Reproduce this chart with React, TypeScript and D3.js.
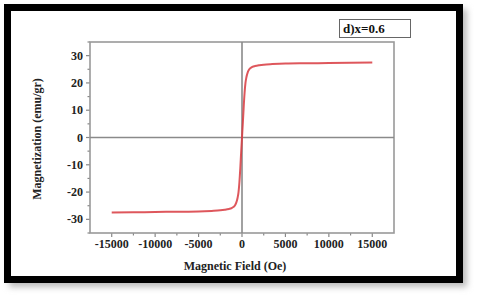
import React, { useEffect, useRef } from "react";
import * as d3 from "d3";

// magnetic field (Oe) and magnetization (emu/gr), read from the loop
const fieldValues = [
  -15000, -12500, -10000, -7500, -5000, -3500, -2500, -2000, -1500, -1200,
  -1000, -800, -650, -500, -400, -300, -200, -100, 0, 100, 200, 300, 400,
  500, 650, 800, 1000, 1200, 1500, 2000, 2500, 3500, 5000, 7500, 10000,
  12500, 15000,
];
const magnetizationValues = [
  -27.5, -27.4, -27.3, -27.2, -27.1, -26.9, -26.7, -26.5, -26.2, -25.9,
  -25.5, -24.8, -23.8, -22, -20, -16.5, -11.5, -5.5, 0, 5.5, 11.5, 16.5,
  20, 22, 23.8, 24.8, 25.5, 25.9, 26.2, 26.5, 26.7, 26.9, 27.1, 27.2, 27.3,
  27.4, 27.5,
];
const xTicks = [-15000, -10000, -5000, 0, 5000, 10000, 15000];
const yTicks = [-30, -20, -10, 0, 10, 20, 30];
const legendLabel = "d)x=0.6";

const W = 480;
const H = 300;
const margin = { left: 90, right: 86, top: 42, bottom: 67 };
const font = "Liberation Serif, Times New Roman, DejaVu Serif, serif";

const App: React.FC = () => {
  const ref = useRef<SVGSVGElement | null>(null);

  useEffect(() => {
    const svg = d3.select(ref.current);
    svg.selectAll("*").remove();

    const defs = svg.append("defs");
    defs
      .append("filter")
      .attr("id", "shadow")
      .attr("x", "-10%")
      .attr("y", "-10%")
      .attr("width", "120%")
      .attr("height", "120%")
      .append("feGaussianBlur")
      .attr("stdDeviation", 3);

    svg.append("rect").attr("width", W).attr("height", H).attr("fill", "#fff");

    // frame with drop shadow
    svg
      .append("rect")
      .attr("x", 9)
      .attr("y", 9)
      .attr("width", 458)
      .attr("height", 278)
      .attr("fill", "#bbb")
      .attr("filter", "url(#shadow)");
    svg
      .append("rect")
      .attr("x", 7.5)
      .attr("y", 7.5)
      .attr("width", 452)
      .attr("height", 272)
      .attr("fill", "#fff")
      .attr("stroke", "#000")
      .attr("stroke-width", 7);

    const x = d3
      .scaleLinear()
      .domain([-17500, 17500])
      .range([margin.left, W - margin.right]);
    const y = d3
      .scaleLinear()
      .domain([-35, 35])
      .range([H - margin.bottom, margin.top]);

    const g = svg.append("g").style("font-family", font);
    const gray = "#999";

    // minor ticks
    const xMinor = d3.range(-15000, 15001, 2500);
    const yMinor = d3.range(-35, 36, 5);
    g.selectAll(".xm")
      .data(xMinor)
      .enter()
      .append("line")
      .attr("x1", (d) => x(d))
      .attr("x2", (d) => x(d))
      .attr("y1", y(-35))
      .attr("y2", (d) => y(-35) + (d % 5000 === 0 ? 4 : 2.5))
      .attr("stroke", "#888")
      .attr("stroke-width", 1.2);
    g.selectAll(".ym")
      .data(yMinor)
      .enter()
      .append("line")
      .attr("y1", (d) => y(d))
      .attr("y2", (d) => y(d))
      .attr("x1", x(-17500))
      .attr("x2", (d) => x(-17500) - (d % 10 === 0 ? 4 : 2.5))
      .attr("stroke", "#888")
      .attr("stroke-width", 1.2);

    // plot border and zero lines
    g.append("rect")
      .attr("x", x(-17500))
      .attr("y", y(35))
      .attr("width", x(17500) - x(-17500))
      .attr("height", y(-35) - y(35))
      .attr("fill", "none")
      .attr("stroke", gray)
      .attr("stroke-width", 1.6);
    g.append("line")
      .attr("x1", x(0))
      .attr("x2", x(0))
      .attr("y1", y(35))
      .attr("y2", y(-35))
      .attr("stroke", "#8a8a8a")
      .attr("stroke-width", 1.6);
    g.append("line")
      .attr("x1", x(-17500))
      .attr("x2", x(17500))
      .attr("y1", y(0))
      .attr("y2", y(0))
      .attr("stroke", "#8a8a8a")
      .attr("stroke-width", 1.4);

    // tick labels
    g.selectAll(".xl")
      .data(xTicks)
      .enter()
      .append("text")
      .attr("x", (d) => x(d))
      .attr("y", y(-35) + 15)
      .attr("text-anchor", "middle")
      .style("font-family", font)
      .attr("font-weight", "bold")
      .attr("font-size", 12)
      .attr("fill", "#222")
      .text((d) => String(d));
    g.selectAll(".yl")
      .data(yTicks)
      .enter()
      .append("text")
      .attr("x", x(-17500) - 7)
      .attr("y", (d) => y(d) + 4)
      .attr("text-anchor", "end")
      .style("font-family", font)
      .attr("font-weight", "bold")
      .attr("font-size", 12)
      .attr("fill", "#222")
      .text((d) => String(d));

    // axis titles
    svg
      .append("text")
      .attr("x", 235)
      .attr("y", 270)
      .attr("text-anchor", "middle")
      .style("font-family", font)
      .attr("font-weight", "bold")
      .attr("font-size", 12)
      .attr("fill", "#222")
      .text("Magnetic Field (Oe)");
    svg
      .append("text")
      .attr("transform", `translate(41, 139) rotate(-90)`)
      .attr("text-anchor", "middle")
      .style("font-family", font)
      .attr("font-weight", "bold")
      .attr("font-size", 12)
      .attr("fill", "#222")
      .text("Magnetization (emu/gr)");

    // curve
    const pts = fieldValues.map((f, i) => [f, magnetizationValues[i]] as [number, number]);
    const line = d3
      .line<[number, number]>()
      .x((d) => x(d[0]))
      .y((d) => y(d[1]))
      .curve(d3.curveMonotoneX);
    g.append("path")
      .datum(pts)
      .attr("d", line)
      .attr("fill", "none")
      .attr("stroke", "#d83a40")
      .attr("stroke-opacity", 0.85)
      .attr("stroke-width", 2);

    // legend box
    svg
      .append("rect")
      .attr("x", 339.5)
      .attr("y", 19.5)
      .attr("width", 71)
      .attr("height", 18)
      .attr("fill", "#fff")
      .attr("stroke", "#666")
      .attr("stroke-width", 1);
    svg
      .append("text")
      .attr("x", 343)
      .attr("y", 33)
      .style("font-family", font)
      .attr("font-weight", "bold")
      .attr("font-size", 13)
      .attr("fill", "#111")
      .text(legendLabel);
  }, []);

  return (
    <svg
      ref={ref}
      width={W}
      height={H}
      style={{ position: "absolute", left: 0, top: 0 }}
    />
  );
};

export default App;
